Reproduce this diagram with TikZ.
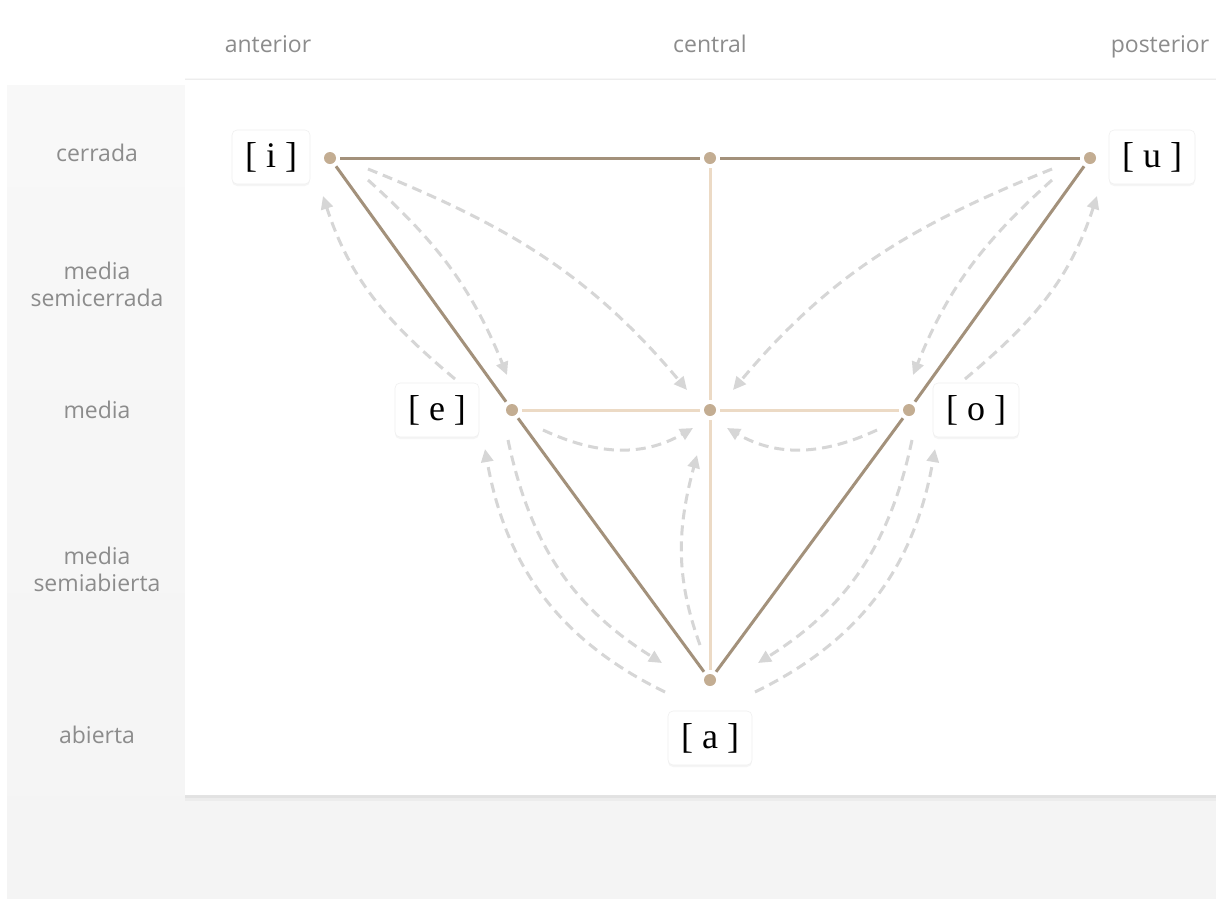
\documentclass[tikz,border=0pt]{standalone}
\usepackage{fontspec}
\newfontfamily\labelfont{Open Sans}
\newfontfamily\vowelfont{Liberation Serif}
\usetikzlibrary{arrows.meta,shadows}
\definecolor{edgedark}{HTML}{A3917B}
\definecolor{edgelight}{HTML}{ECDAC5}
\definecolor{dotcol}{HTML}{C3AD92}
\definecolor{flowgray}{HTML}{D6D6D6}
\definecolor{labelgray}{HTML}{8C8C8C}
\definecolor{paneback}{HTML}{F4F4F4}
\definecolor{sideback}{HTML}{F8F8F8}
\begin{document}
\begin{tikzpicture}[x=1pt,y=1pt,
  vowel/.style={fill=white,draw=black!6,line width=0.6pt,rounded corners=5pt,
    inner xsep=13pt,minimum height=54pt,font=\vowelfont\fontsize{36}{40}\selectfont,
    drop shadow={opacity=0.08,shadow xshift=0pt,shadow yshift=-2pt}},
  axislabel/.style={text=labelgray,font=\labelfont\fontsize{23}{27}\selectfont,align=center},
  vdot/.style={circle,fill=dotcol,inner sep=0pt,minimum size=12pt},
  edgeline/.style={edgedark,line width=3pt,shorten <=4pt,shorten >=4pt},
  gridline/.style={edgelight,line width=3pt,shorten <=4pt,shorten >=4pt},
  flow/.style={flowgray,line width=3pt,dash pattern=on 10pt off 6pt,
    -{Triangle[length=13pt,width=12pt]}}]

\useasboundingbox (0,0) rectangle (1216,-898);
\fill[white] (0,0) rectangle (1216,-898);
\fill[top color=sideback,bottom color=paneback] (7,-85) rectangle (1216,-898);
\fill[black,opacity=0.03] (185,-78) rectangle (1216,-801);
\fill[black,opacity=0.04] (185,-79) rectangle (1216,-798);
\fill[white] (185,-80) rectangle (1216,-795);

% column and row labels
\node[axislabel,anchor=base] (anterior) at (268,-52) {anterior};
\node[axislabel,anchor=base] (central) at (710,-52) {central};
\node[axislabel,anchor=base] (posterior) at (1160,-52) {posterior};
\node[axislabel] (cerrada) at (97,-153) {cerrada};
\node[axislabel] (semicerrada) at (97,-284) {media\\semicerrada};
\node[axislabel] (media) at (97,-410) {media};
\node[axislabel] (semiabierta) at (97,-569) {media\\semiabierta};
\node[axislabel] (abierta) at (97,-735) {abierta};

% vowel points
\node[vdot] (i) at (330,-158) {};
\node[vdot] (t) at (710,-158) {};
\node[vdot] (u) at (1090,-158) {};
\node[vdot] (e) at (512,-410) {};
\node[vdot] (c) at (710,-410) {};
\node[vdot] (o) at (909,-410) {};
\node[vdot] (a) at (710,-680) {};

% free ends of the dashed arrows
\coordinate (ic0) at (368,-169); \coordinate (ic1) at (687,-390);
\coordinate (ie0) at (368,-180); \coordinate (ie1) at (507,-375);
\coordinate (ei0) at (455,-379); \coordinate (ei1) at (323,-196);
\coordinate (uc0) at (1052,-169); \coordinate (uc1) at (733,-390);
\coordinate (uo0) at (1052,-180); \coordinate (uo1) at (913,-375);
\coordinate (ou0) at (965,-379); \coordinate (ou1) at (1097,-196);
\coordinate (ec0) at (543,-430); \coordinate (ec1) at (693,-428);
\coordinate (oc0) at (877,-430); \coordinate (oc1) at (727,-428);
\coordinate (ac0) at (700,-645); \coordinate (ac1) at (697,-455);
\coordinate (ea0) at (508,-440); \coordinate (ea1) at (662,-663);
\coordinate (ae0) at (665,-692); \coordinate (ae1) at (485,-449);
\coordinate (oa0) at (912,-440); \coordinate (oa1) at (758,-663);
\coordinate (ao0) at (755,-692); \coordinate (ao1) at (935,-449);

\draw[flow] (ic0) to[out=-22,in=130] (ic1);
\draw[flow] (ie0) to[out=-42,in=112] (ie1);
\draw[flow] (ei0) to[out=140,in=-72] (ei1);
\draw[flow] (uc0) to[out=202,in=50] (uc1);
\draw[flow] (uo0) to[out=222,in=68] (uo1);
\draw[flow] (ou0) to[out=40,in=252] (ou1);
\draw[flow] (ec0) to[out=-25,in=-150] (ec1);
\draw[flow] (oc0) to[out=205,in=-30] (oc1);
\draw[flow] (ac0) to[out=110,in=-105] (ac1);
\draw[flow] (ea0) to[out=-78,in=148] (ea1);
\draw[flow] (ae0) to[out=154,in=-80] (ae1);
\draw[flow] (oa0) to[out=258,in=32] (oa1);
\draw[flow] (ao0) to[out=26,in=260] (ao1);

% triangle
\draw[gridline] (t) -- (c);
\draw[gridline] (c) -- (a);
\draw[gridline] (e) -- (c);
\draw[gridline] (c) -- (o);
\draw[edgeline] (i) -- (t);
\draw[edgeline] (t) -- (u);
\draw[edgeline] (i) -- (e);
\draw[edgeline] (e) -- (a);
\draw[edgeline] (u) -- (o);
\draw[edgeline] (o) -- (a);

% vowel labels
\node[vowel] (li) at (271,-157) {[ i ]};
\node[vowel] (lu) at (1152,-157) {[ u ]};
\node[vowel] (le) at (437,-410) {[ e ]};
\node[vowel] (lo) at (976,-410) {[ o ]};
\node[vowel] (la) at (710,-738) {[ a ]};
\end{tikzpicture}
\end{document}
